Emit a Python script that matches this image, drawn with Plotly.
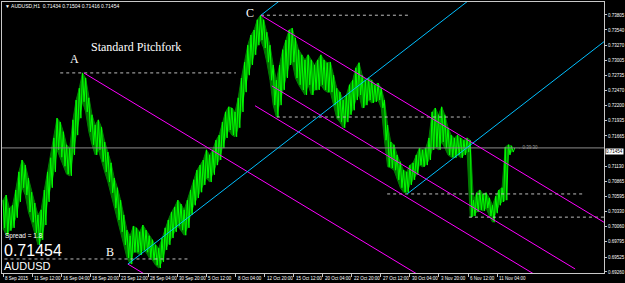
import plotly.graph_objects as go

# ---------------- data ----------------
BAR_STEP = 7  # H1 bars between samples
highs = [0.7053, 0.7062, 0.7039, 0.7044, 0.7071, 0.7103, 0.7124, 0.7115, 0.7092, 0.7067,
         0.7048, 0.7027, 0.7036, 0.7071, 0.7103, 0.7128, 0.7163, 0.7198, 0.7191, 0.7174,
         0.7151, 0.7145, 0.7195, 0.7230, 0.7251, 0.7278, 0.7269, 0.7234, 0.7204, 0.7186,
         0.7195, 0.7182, 0.7156, 0.7138, 0.7119, 0.7092, 0.7075, 0.7053, 0.7027, 0.7000,
         0.6990, 0.7007, 0.7004, 0.6997, 0.7009, 0.7000, 0.6990, 0.6983, 0.6974, 0.6968,
         0.6986, 0.7004, 0.7018, 0.7032, 0.7041, 0.7053, 0.7046, 0.7036, 0.7053, 0.7071,
         0.7089, 0.7106, 0.7115, 0.7124, 0.7142, 0.7133, 0.7142, 0.7159, 0.7168, 0.7191,
         0.7209, 0.7218, 0.7216, 0.7209, 0.7234, 0.7269, 0.7297, 0.7327, 0.7345, 0.7354,
         0.7372, 0.7380, 0.7372, 0.7350, 0.7327, 0.7292, 0.7265, 0.7292, 0.7319, 0.7336,
         0.7354, 0.7357, 0.7340, 0.7319, 0.7310, 0.7301, 0.7310, 0.7301, 0.7292, 0.7301,
         0.7310, 0.7301, 0.7296, 0.7297, 0.7274, 0.7251, 0.7244, 0.7230, 0.7239, 0.7257,
         0.7265, 0.7287, 0.7296, 0.7274, 0.7265, 0.7269, 0.7265, 0.7257, 0.7260, 0.7251,
         0.7230, 0.7186, 0.7156, 0.7151, 0.7133, 0.7121, 0.7106, 0.7103, 0.7115, 0.7119,
         0.7133, 0.7145, 0.7142, 0.7145, 0.7163, 0.7209, 0.7216, 0.7204, 0.7218, 0.7204,
         0.7181, 0.7168, 0.7163, 0.7168, 0.7163, 0.7159, 0.7163, 0.7159, 0.7053, 0.7066,
         0.7071, 0.7064, 0.7066, 0.7057, 0.7044, 0.7060, 0.7071, 0.7075, 0.7147, 0.7151,
         0.7149]
lows = [0.7004, 0.6991, 0.6999, 0.7004, 0.7022, 0.7050, 0.7075, 0.7062, 0.7032, 0.7014,
        0.6995, 0.6974, 0.6983, 0.7009, 0.7050, 0.7075, 0.7103, 0.7142, 0.7129, 0.7113,
        0.7099, 0.7096, 0.7133, 0.7168, 0.7198, 0.7227, 0.7209, 0.7174, 0.7151, 0.7133,
        0.7142, 0.7121, 0.7103, 0.7085, 0.7066, 0.7039, 0.7018, 0.6997, 0.6974, 0.6951,
        0.6940, 0.6961, 0.6961, 0.6956, 0.6965, 0.6961, 0.6951, 0.6947, 0.6938, 0.6933,
        0.6944, 0.6965, 0.6974, 0.6986, 0.6997, 0.7007, 0.7000, 0.6991, 0.7004, 0.7027,
        0.7044, 0.7057, 0.7067, 0.7080, 0.7092, 0.7085, 0.7098, 0.7115, 0.7124, 0.7145,
        0.7163, 0.7177, 0.7168, 0.7165, 0.7181, 0.7209, 0.7244, 0.7274, 0.7292, 0.7310,
        0.7327, 0.7336, 0.7322, 0.7297, 0.7265, 0.7221, 0.7200, 0.7221, 0.7248, 0.7269,
        0.7292, 0.7297, 0.7269, 0.7257, 0.7248, 0.7239, 0.7257, 0.7239, 0.7248, 0.7248,
        0.7257, 0.7248, 0.7244, 0.7244, 0.7221, 0.7198, 0.7191, 0.7181, 0.7191, 0.7204,
        0.7212, 0.7230, 0.7239, 0.7216, 0.7221, 0.7230, 0.7225, 0.7227, 0.7230, 0.7216,
        0.7159, 0.7112, 0.7110, 0.7106, 0.7089, 0.7075, 0.7067, 0.7066, 0.7080, 0.7089,
        0.7098, 0.7115, 0.7112, 0.7115, 0.7124, 0.7142, 0.7147, 0.7142, 0.7156, 0.7145,
        0.7133, 0.7129, 0.7128, 0.7133, 0.7128, 0.7133, 0.7138, 0.7023, 0.7025, 0.7032,
        0.7036, 0.7034, 0.7039, 0.7025, 0.7014, 0.7030, 0.7044, 0.7050, 0.7053, 0.7133,
        0.7138]
last_price = 0.71454

# pivot points (bar index, price)
pivot_names = ["A", "B", "C", "D"]
pivot_bars = [178, 275, 568, 890]
pivot_prices = [0.7278, 0.6940, 0.7380, 0.7064]

# extra lines parallel to the magenta median (anchor bar, anchor price, end bar)
extra_bars = [592, 555]
extra_prices = [0.7255, 0.7220]
extra_ends = [1260, 1500]

# dotted horizontal levels
level_prices = [0.7278, 0.7380, 0.6949, 0.7200, 0.7064, 0.7023]
level_start = [126, 568, -10, 603, 846, 1026]
level_end = [513, 896, 407, 1028, 1277, 1400]

# axes
tick_bars = [0, 64, 128, 192, 256, 320, 384, 448, 512, 576, 640, 704, 768, 832, 896, 960, 1024, 1088]
tick_dates = ["8 Sep 2015", "11 Sep 12:00", "16 Sep 04:00", "18 Sep 20:00", "23 Sep 12:00",
              "28 Sep 04:00", "30 Sep 20:00", "5 Oct 12:00", "8 Oct 04:00", "12 Oct 20:00",
              "15 Oct 12:00", "20 Oct 04:00", "22 Oct 20:00", "27 Oct 12:00", "30 Oct 04:00",
              "3 Nov 20:00", "6 Nov 12:00", "11 Nov 04:00"]
price_ticks = [0.73805, 0.73540, 0.73270, 0.73005, 0.72735, 0.72470, 0.72200, 0.71935,
               0.71665, 0.71130, 0.70865, 0.70595, 0.70330, 0.70060, 0.69795, 0.69525, 0.69260]

# ---------------- figure ----------------
W, H = 625, 283
ML, MR, MT, MB = 2, 21, 2, 10
X_RANGE = [-2.2, 1323.5]
Y_RANGE = [0.69242, 0.74034]
FAR = 1600

MAGENTA = "#FF00FF"
CYAN = "#00BFFF"
GREEN = "#00FF00"
DARK_GREEN = "#007A00"
GRID = "#C8C8C8"
SANS = "Liberation Sans"
SERIF = "Liberation Serif"

fig = go.Figure()

bars = [i * BAR_STEP for i in range(len(highs))]

# dark green body of the bar band
fig.add_trace(go.Scatter(x=bars + bars[::-1], y=highs + lows[::-1], mode="lines",
                         fill="toself", fillcolor=DARK_GREEN, line=dict(color=DARK_GREEN, width=1),
                         hoverinfo="skip", showlegend=False))

# bright bars: high/low zigzag
zx, zy = [], []
for b, h, l in zip(bars, highs, lows):
    zx += [b, b + BAR_STEP / 2]
    zy += [h, l]
zx.append(len(highs) * BAR_STEP)
zy.append(last_price)
fig.add_trace(go.Scatter(x=zx, y=zy, mode="lines", line=dict(color=GREEN, width=1),
                         hoverinfo="skip", showlegend=False))

# current price line
fig.add_trace(go.Scatter(x=[X_RANGE[0] - 50, FAR], y=[last_price, last_price], mode="lines",
                         line=dict(color="#8C8C8C", width=1), hoverinfo="skip", showlegend=False))

# dotted levels
for p, s, e in zip(level_prices, level_start, level_end):
    fig.add_trace(go.Scatter(x=[s, e], y=[p, p], mode="lines",
                             line=dict(color="#BDBDBD", width=1, dash="dot"),
                             hoverinfo="skip", showlegend=False))


def pitchfork(i1, i2, i3):
    p1 = (pivot_bars[i1], pivot_prices[i1])
    p2 = (pivot_bars[i2], pivot_prices[i2])
    p3 = (pivot_bars[i3], pivot_prices[i3])
    mx = (p2[0] + p3[0]) / 2
    my = (p2[1] + p3[1]) / 2
    slope = (my - p1[1]) / (mx - p1[0])
    lines = []
    for p in (p1, p2, p3):
        lines.append(([p[0], FAR], [p[1], p[1] + slope * (FAR - p[0])]))
    return slope, lines


m_slope, m_lines = pitchfork(0, 1, 2)
c_slope, c_lines = pitchfork(1, 2, 3)

for xs, ys in m_lines:
    fig.add_trace(go.Scatter(x=xs, y=ys, mode="lines", line=dict(color=MAGENTA, width=1),
                             hoverinfo="skip", showlegend=False))
for b, p, e in zip(extra_bars, extra_prices, extra_ends):
    fig.add_trace(go.Scatter(x=[b, e], y=[p, p + m_slope * (e - b)], mode="lines",
                             line=dict(color=MAGENTA, width=1), hoverinfo="skip", showlegend=False))
for xs, ys in c_lines:
    fig.add_trace(go.Scatter(x=xs, y=ys, mode="lines", line=dict(color=CYAN, width=1),
                             hoverinfo="skip", showlegend=False))

PW = W - ML - MR
PH = H - MT - MB


def pxx(x):
    return (x - ML) / PW


def pyy(y):
    return (H - MB - y) / PH


ann = []
# pivot labels
shifts = {"A": (-9, 14), "B": (-18, 12), "C": (-11, 2)}
for n, b, p in zip(pivot_names, pivot_bars, pivot_prices):
    if n in shifts:
        dx, dy = shifts[n]
        ann.append(dict(x=b, y=p, xref="x", yref="y", text=n, showarrow=False,
                        xshift=dx, yshift=dy, font=dict(family=SERIF, size=12, color="white")))

ann.append(dict(x=pxx(136), y=pyy(47), xref="paper", yref="paper", text="Standard Pitchfork",
                showarrow=False, xanchor="center", yanchor="middle",
                font=dict(family=SERIF, size=12, color="white")))
ann.append(dict(x=pxx(3), y=pyy(235.5), xref="paper", yref="paper", text="Spread = 1.8",
                showarrow=False, xanchor="left", yanchor="middle",
                font=dict(family=SANS, size=6.5, color="white")))
ann.append(dict(x=pxx(2), y=pyy(250), xref="paper", yref="paper", text=f"{last_price:.5f}",
                showarrow=False, xanchor="left", yanchor="middle",
                font=dict(family=SANS, size=16, color="white")))
ann.append(dict(x=pxx(2), y=pyy(266), xref="paper", yref="paper", text="AUDUSD",
                showarrow=False, xanchor="left", yanchor="middle",
                font=dict(family=SANS, size=11, color="white")))
ann.append(dict(x=pxx(3), y=pyy(6), xref="paper", yref="paper",
                text="▼ AUDUSD,H1  0.71434 0.71504 0.71416 0.71454",
                showarrow=False, xanchor="left", yanchor="middle",
                font=dict(family=SANS, size=5, color="white")))
ann.append(dict(x=len(highs) * BAR_STEP + 2, y=last_price, xref="x", yref="y", text="←0:39:30",
                showarrow=False, xanchor="left", yanchor="middle",
                font=dict(family=SANS, size=4.5, color="#9A9A9A")))
# current price box on the right axis
ann.append(dict(x=1, y=last_price, xref="paper", yref="y", text=f"{last_price:.5f}",
                showarrow=False, xanchor="left", yanchor="middle", xshift=1, yshift=-4,
                bgcolor="white", borderpad=0,
                font=dict(family=SANS, size=4.5, color="black")))
# date labels along the bottom axis
for b, t in zip(tick_bars, tick_dates):
    ann.append(dict(x=b, y=pyy(278), xref="x", yref="paper", text=t, showarrow=False,
                    xanchor="left", yanchor="middle", xshift=1, borderpad=0,
                    font=dict(family=SANS, size=4.5, color="white")))

fig.update_layout(
    width=W, height=H,
    margin=dict(l=ML, r=MR, t=MT, b=MB, pad=0),
    paper_bgcolor="black", plot_bgcolor="black",
    showlegend=False,
    annotations=ann,
    xaxis=dict(range=X_RANGE, showgrid=False, zeroline=False, showline=True, linecolor=GRID,
               linewidth=1, mirror=True, tickmode="array", tickvals=tick_bars,
               showticklabels=False, ticks="outside", ticklen=3, tickcolor=GRID,
               automargin=False),
    yaxis=dict(range=Y_RANGE, side="right", showgrid=False, zeroline=False, showline=True,
               linecolor=GRID, linewidth=1, mirror=True, tickmode="array", tickvals=price_ticks,
               ticktext=[f"{v:.5f}" for v in price_ticks], ticks="outside", ticklen=2,
               tickcolor=GRID, tickfont=dict(family=SANS, size=4.5, color="white"),
               automargin=False),
)

fig.write_html("out.html", config={"displayModeBar": False})
